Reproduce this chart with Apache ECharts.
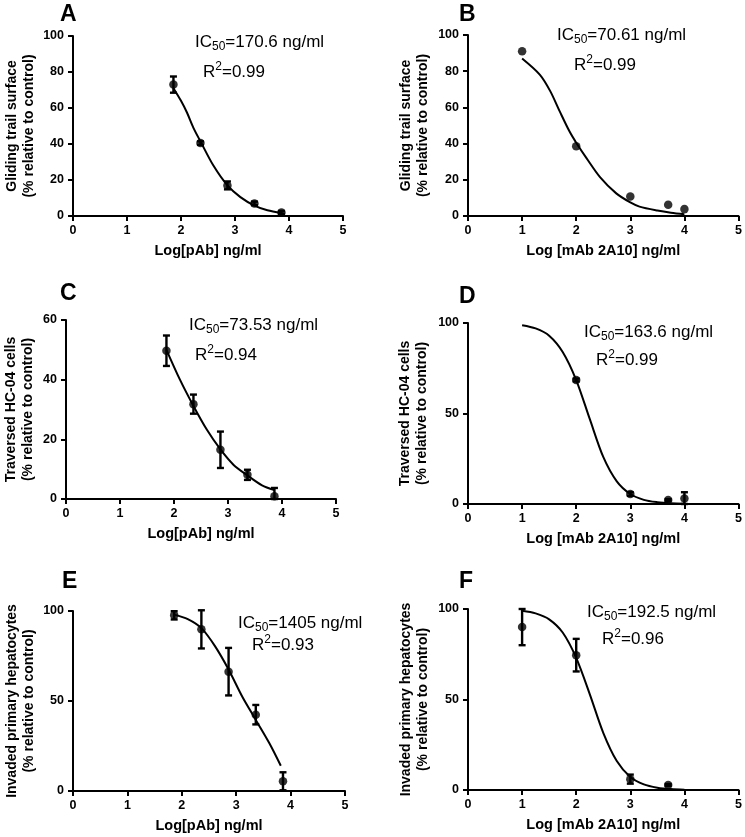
<!DOCTYPE html>
<html>
<head>
<meta charset="utf-8">
<script src="https://cdn.jsdelivr.net/npm/echarts@6/dist/echarts.min.js"></script>
<style>
html,body{margin:0;padding:0;background:#fff;}
#chart{width:745px;height:837px;}
</style>
</head>
<body>
<div id="chart"></div>
<script>
// ---------- DATA ----------
const xTicks = [0, 1, 2, 3, 4, 5];

// Panel A
const aPointX = [1.86, 2.36, 2.86, 3.36, 3.86];
const aPointY = [73, 40.5, 17, 7, 2];
const aPointErr = [4.5, 1, 2.2, 1, 0.8];
const aCurveX = [1.86, 2.0, 2.11, 2.23, 2.36, 2.6, 2.86, 3.1, 3.36, 3.6, 3.86];
const aCurveY = [71, 64, 57.5, 49, 41.5, 28, 17, 10.5, 5.8, 3.2, 1.7];

// Panel B
const bPointX = [1, 2, 3, 3.7, 4];
const bPointY = [91, 38.5, 10.8, 6.2, 3.8];
const bPointErr = [0, 0, 0, 0, 0];
const bCurveX = [1, 1.33, 1.52, 1.7, 1.88, 2.0, 2.19, 2.44, 2.74, 3.0, 3.17, 3.5, 3.75, 4.0];
const bCurveY = [87, 78, 69, 57.5, 46.5, 40.5, 32, 21.5, 12.5, 7.5, 5.2, 3, 1.8, 1];

// Panel C
const cPointX = [1.86, 2.36, 2.86, 3.36, 3.86];
const cPointY = [49.7, 31.8, 16.5, 8.1, 0.9];
const cPointErr = [5.1, 3.2, 6.1, 1.7, 2.8];
const cCurveX = [1.86, 2.11, 2.36, 2.61, 2.86, 3.1, 3.36, 3.63, 3.86];
const cCurveY = [50, 40, 31.2, 23.2, 16.6, 11.5, 7.9, 4.6, 3];

// Panel D
const dPointX = [2, 3, 3.7, 4];
const dPointY = [68.5, 5.5, 2.2, 3];
const dPointErr = [0.8, 1, 0.5, 3.5];
const dCurveX = [1, 1.25, 1.5, 1.75, 2.0, 2.25, 2.5, 2.75, 3.0, 3.25, 3.5, 3.75, 4.0];
const dCurveY = [98.8, 97, 93, 84, 68.5, 47, 26, 12.5, 5.5, 2.3, 1, 0.4, 0.2];

// Panel E
const ePointX = [1.86, 2.36, 2.86, 3.36, 3.86];
const ePointY = [97.6, 89.8, 66.3, 42.4, 5.4];
const ePointErr = [2.3, 10.6, 13.2, 5.4, 5];
const eCurveX = [1.86, 2.11, 2.36, 2.61, 2.86, 3.11, 3.36, 3.61, 3.82];
const eCurveY = [98, 95.5, 90.5, 80.5, 67.5, 52.5, 39.5, 26.5, 14];

// Panel F
const fPointX = [1, 2, 3, 3.7];
const fPointY = [90, 74.5, 6, 2.8];
const fPointErr = [10, 9, 2.5, 0.5];
const fCurveX = [1, 1.25, 1.5, 1.75, 2.0, 2.25, 2.5, 2.75, 3.0, 3.25, 3.5, 3.75, 4.0];
const fCurveY = [99, 97.6, 94.3, 87, 73, 53, 31.6, 16, 7.2, 3.1, 1.3, 0.5, 0.2];

const panelLetters = ['A', 'B', 'C', 'D', 'E', 'F'];
const ic50Values = ['170.6', '70.61', '73.53', '163.6', '1405', '192.5'];
const r2Values = ['0.99', '0.99', '0.94', '0.99', '0.93', '0.96'];
const yTitles = [
  'Gliding trail surface\n(% relative to control)',
  'Gliding trail surface\n(% relative to control)',
  'Traversed HC-04 cells\n(% relative to control)',
  'Traversed HC-04 cells\n(% relative to control)',
  'Invaded primary hepatocytes\n(% relative to control)',
  'Invaded primary hepatocytes\n(% relative to control)'
];
const xTitles = ['Log[pAb] ng/ml', 'Log [mAb 2A10] ng/ml', 'Log[pAb] ng/ml',
  'Log [mAb 2A10] ng/ml', 'Log[pAb] ng/ml', 'Log [mAb 2A10] ng/ml'];
const yMax = [100, 100, 60, 100, 100, 100];
const yInterval = [20, 20, 20, 50, 50, 50];

// ---------- LAYOUT (styles / positions) ----------
const FONT = 'Arial, "Liberation Sans", Helvetica, sans-serif';
const grids = [
  {left: 73, top: 36, width: 270, height: 180},
  {left: 468, top: 35, width: 271, height: 181},
  {left: 66, top: 320, width: 270, height: 179},
  {left: 468, top: 323, width: 271, height: 181},
  {left: 73, top: 611, width: 272, height: 180},
  {left: 468, top: 609, width: 271, height: 181}
];
const yNameGap = [35, 36, 29, 37, 35, 36];
const letterPos = [[60, 15], [459, 15], [60, 294], [459, 297], [62, 582], [459, 582]];
const icPos = [[195, 42], [557, 35], [189, 325], [584, 332], [238, 623], [587, 612]];
const r2Pos = [[203, 72], [574, 65], [195, 355], [596, 360], [252, 645], [602, 639]];

const panels = [
  [aPointX, aPointY, aPointErr, aCurveX, aCurveY],
  [bPointX, bPointY, bPointErr, bCurveX, bCurveY],
  [cPointX, cPointY, cPointErr, cCurveX, cCurveY],
  [dPointX, dPointY, dPointErr, dCurveX, dCurveY],
  [ePointX, ePointY, ePointErr, eCurveX, eCurveY],
  [fPointX, fPointY, fPointErr, fCurveX, fCurveY]
];

function zip2(a, b) { return a.map((v, i) => [v, b[i]]); }
function zip3(a, b, c) { return a.map((v, i) => [v, b[i], c[i]]); }

function errRender(params, api) {
  const x = api.value(0), y = api.value(1), e = api.value(2);
  if (!e) return null;
  const t = api.coord([x, y + e]);
  const b = api.coord([x, Math.max(0, y - e)]);
  const w = 3.5;
  const st = {stroke: '#000', lineWidth: 2.4};
  return {
    type: 'group',
    children: [
      {type: 'line', shape: {x1: t[0], y1: t[1], x2: b[0], y2: b[1]}, style: st},
      {type: 'line', shape: {x1: t[0] - w, y1: t[1], x2: t[0] + w, y2: t[1]}, style: st},
      {type: 'line', shape: {x1: b[0] - w, y1: b[1], x2: b[0] + w, y2: b[1]}, style: st}
    ]
  };
}

const xAxes = [], yAxes = [], series = [], graphics = [];
panels.forEach((p, i) => {
  xAxes.push({
    gridIndex: i, type: 'value', min: 0, max: 5, interval: 1,
    name: xTitles[i], nameLocation: 'middle', nameGap: 27,
    nameTextStyle: {fontFamily: FONT, fontWeight: 'bold', fontSize: 14.5, color: '#000'},
    axisLine: {show: true, onZero: false, lineStyle: {color: '#000', width: 2}},
    axisTick: {show: true, length: 5, lineStyle: {color: '#000', width: 2}},
    axisLabel: {fontFamily: FONT, fontWeight: 'bold', fontSize: 12.5, color: '#000', margin: 8,
      formatter: v => String(xTicks[Math.round(v)])},
    splitLine: {show: false}
  });
  yAxes.push({
    gridIndex: i, type: 'value', min: 0, max: yMax[i], interval: yInterval[i],
    name: yTitles[i], nameLocation: 'middle', nameGap: yNameGap[i], nameRotate: 90,
    nameTextStyle: {fontFamily: FONT, fontWeight: 'bold', fontSize: 14, color: '#000', lineHeight: 17},
    axisLine: {show: true, onZero: false, lineStyle: {color: '#000', width: 2}},
    axisTick: {show: true, length: 5, lineStyle: {color: '#000', width: 2}},
    axisLabel: {fontFamily: FONT, fontWeight: 'bold', fontSize: 12.5, color: '#000', margin: 9},
    splitLine: {show: false}
  });
  series.push({
    type: 'line', xAxisIndex: i, yAxisIndex: i,
    data: zip2(p[3], p[4]), showSymbol: false, symbol: 'none',
    smooth: 0.3,
    lineStyle: {color: '#000', width: 2}, silent: true, z: 2
  });
  series.push({
    type: 'custom', xAxisIndex: i, yAxisIndex: i,
    data: zip3(p[0], p[1], p[2]), renderItem: errRender,
    encode: {x: 0, y: 1}, silent: true, z: 3, clip: false
  });
  series.push({
    type: 'scatter', xAxisIndex: i, yAxisIndex: i,
    data: zip2(p[0], p[1]), symbol: 'circle', symbolSize: 8.5,
    itemStyle: {color: '#000'}, silent: true, z: 4, clip: false
  });
  graphics.push({
    type: 'text', x: letterPos[i][0], y: letterPos[i][1],
    style: {text: panelLetters[i], fontFamily: FONT, fontWeight: 'bold', fontSize: 23,
      fill: '#000', verticalAlign: 'middle', align: 'left'}
  });
  graphics.push({
    type: 'text', x: icPos[i][0], y: icPos[i][1],
    style: {
      text: '{n|IC}{s|50}{n|=' + ic50Values[i] + ' ng/ml}',
      verticalAlign: 'middle', align: 'left',
      rich: {
        n: {fontFamily: FONT, fontSize: 17, fill: '#000', lineHeight: 22, verticalAlign: 'middle'},
        s: {fontFamily: FONT, fontSize: 12, fill: '#000', lineHeight: 22, verticalAlign: 'middle', padding: [10, 0, 0, 0]}
      }
    }
  });
  graphics.push({
    type: 'text', x: r2Pos[i][0], y: r2Pos[i][1],
    style: {
      text: '{n|R}{s|2}{n|=' + r2Values[i] + '}',
      verticalAlign: 'middle', align: 'left',
      rich: {
        n: {fontFamily: FONT, fontSize: 17, fill: '#000', lineHeight: 22, verticalAlign: 'middle'},
        s: {fontFamily: FONT, fontSize: 12, fill: '#000', lineHeight: 22, verticalAlign: 'middle', padding: [0, 0, 10, 0]}
      }
    }
  });
});

const chart = echarts.init(document.getElementById('chart'), null, {renderer: 'canvas'});
chart.setOption({
  backgroundColor: '#fff',
  animation: false,
  grid: grids,
  xAxis: xAxes,
  yAxis: yAxes,
  series: series,
  graphic: graphics
});
</script>
</body>
</html>
